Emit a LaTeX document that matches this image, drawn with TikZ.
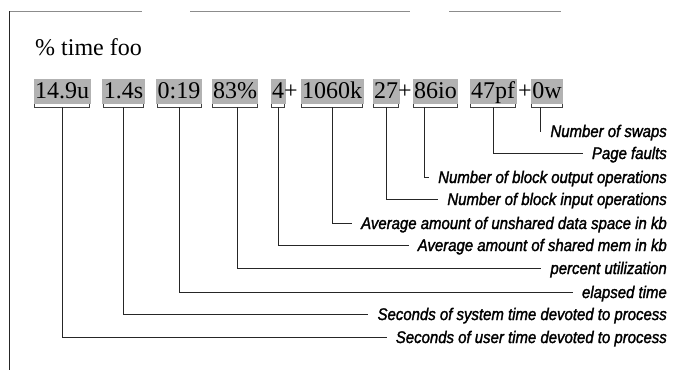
\documentclass[tikz,border=0pt]{standalone}
\usepackage{fontspec}
\setmainfont{Liberation Serif}
\newfontfamily\lblfont{Liberation Sans}[FakeStretch=0.89,FakeBold=1.6,
  ItalicFeatures={FakeStretch=0.89,FakeBold=1.6}]
\begin{document}
\begin{tikzpicture}[x=1pt,y=-1pt,
  numtxt/.style={anchor=base,inner xsep=1.5pt,inner ysep=3pt,text height=16.5pt,text depth=3pt,
    font=\fontsize{24}{28}\selectfont},
  numbox/.style={numtxt,fill=black!30},
  lbl/.style={anchor=east,inner xsep=9pt,inner ysep=0pt,text height=12pt,text depth=0pt,
    font=\lblfont\itshape\fontsize{16.8}{18}\selectfont},
  conn/.style={line width=0.9pt,draw=black!85},
  brk/.style={line width=0.8pt,draw=black!75}]
\useasboundingbox (0,0) rectangle (677,370);
% frame
\draw[line width=1.3pt,black!85] (9.5,11) -- (9.5,370);
\draw[line width=1pt,black!45] (9.5,11) -- (142,11) (190,11) -- (410,11) (449,11) -- (561,11);
% title
\node[anchor=base west,inner sep=0pt,font=\fontsize{24}{28}\selectfont] (title) at (35,55) {\% time foo};
% numbers row
\node[numbox] (n1) at (62,98) {14.9u};
\node[numbox] (n2) at (123.5,98) {1.4s};
\node[numbox] (n3) at (179,98) {0:19};
\node[numbox] (n4) at (235,98) {83\%};
\node[numbox] (n5) at (278,98) {4};
\node[numtxt] (p1) at (291,98) {+};
\node[numbox] (n6) at (332,98) {1060k};
\node[numbox] (n7) at (386,98) {27};
\node[numtxt] (p2) at (405,98) {+};
\node[numbox] (n8) at (435.5,98) {86io};
\node[numbox] (n9) at (493,98) {47pf};
\node[numtxt] (p3) at (525,98) {+};
\node[numbox] (n10) at (547,98) {0w};
% brackets under boxes
\foreach \n in {n1,n2,n3,n4,n5,n6,n7,n8,n9,n10}{
  \draw[brk] ([xshift=1pt]\n.south west) -- ([xshift=1pt,yshift=-3pt]\n.south west)
     -- ([xshift=-1pt,yshift=-3pt]\n.south east) -- ([xshift=-1pt]\n.south east);
}
% labels
\node[lbl] (l1) at (676,131) {Number of swaps};
\node[lbl] (l2) at (676,153) {Page faults};
\node[lbl] (l3) at (676,177) {Number of block output operations};
\node[lbl] (l4) at (676,199) {Number of block input operations};
\node[lbl] (l5) at (676,223) {Average amount of unshared data space in kb};
\node[lbl] (l6) at (676,245) {Average amount of shared mem in kb};
\node[lbl] (l7) at (676,268) {percent utilization};
\node[lbl] (l8) at (676,292) {elapsed time};
\node[lbl] (l9) at (676,314) {Seconds of system time devoted to process};
\node[lbl] (l10) at (676,337) {Seconds of user time devoted to process};
% connectors
\draw[conn] ([xshift=-7pt,yshift=-3pt]n10.south) |- (l1);
\draw[conn] ([yshift=-3pt]n9.south) |- (l2);
\draw[conn] ([xshift=-11pt,yshift=-3pt]n8.south) |- (l3);
\draw[conn] ([yshift=-3pt]n7.south) |- (l4);
\draw[conn] ([yshift=-3pt]n6.south) |- (l5);
\draw[conn] ([yshift=-3pt]n5.south) |- (l6);
\draw[conn] ([xshift=2pt,yshift=-3pt]n4.south) |- (l7);
\draw[conn] ([yshift=-3pt]n3.south) |- (l8);
\draw[conn] ([yshift=-3pt]n2.south) |- (l9);
\draw[conn] ([yshift=-3pt]n1.south) |- (l10);
\end{tikzpicture}
\end{document}
